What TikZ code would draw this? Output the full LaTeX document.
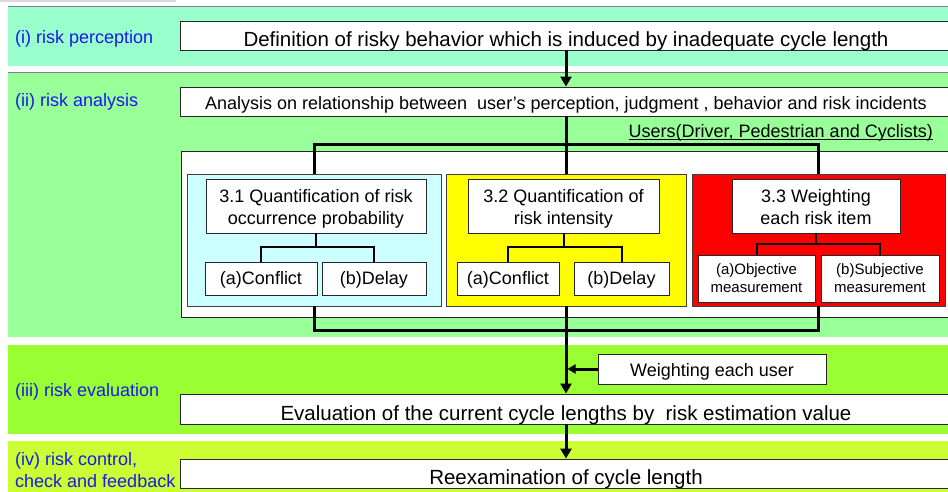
\documentclass[tikz,border=0pt]{standalone}
\usepackage{fontspec}
\setmainfont{Liberation Sans}
\usetikzlibrary{arrows.meta}
\definecolor{bandA}{HTML}{99FFCC}
\definecolor{bandB}{HTML}{99FF99}
\definecolor{bandC}{HTML}{99FF33}
\definecolor{bandD}{HTML}{CCFF33}
\definecolor{boxcyan}{HTML}{CCFFFF}
\definecolor{boxyellow}{HTML}{FFFF00}
\definecolor{boxred}{HTML}{FF0000}
\definecolor{lblblue}{RGB}{25,25,235}
\begin{document}
\begin{tikzpicture}[x=1pt,y=-1pt,
  wbox/.style={draw=black!85, line width=0.9pt, fill=white, inner sep=0pt},
  ml/.style={align=center},
  gbox/.style={draw=black!75, line width=0.9pt, inner sep=0pt, minimum height=132pt},
  bigtxt/.style={font=\fontsize{20.5}{24}\selectfont, text height=22.7pt, text depth=0pt},
  midtxt/.style={font=\fontsize{18}{22}\selectfont},
  smalltxt/.style={font=\fontsize{15}{18}\selectfont},
  lbl/.style={anchor=base west, text=lblblue, font=\fontsize{18}{21.5}\selectfont, inner sep=0pt, align=left},
  flow/.style={line width=3pt},
  flowarrow/.style={line width=3pt, -{Triangle[length=10pt,width=11pt]}},
  sidearrow/.style={line width=3pt, -{Triangle[length=8pt,width=9pt]}},
  subline/.style={line width=2pt},
]
\useasboundingbox (0,0) rectangle (948,492);
% bands
\fill[black!15] (0,0) rectangle (176,2);
\fill[bandA] (8,6) rectangle (948,66);
\fill[bandB] (8,72) rectangle (948,337);
\fill[bandC] (8,345) rectangle (948,434);
\fill[bandD] (8,441) rectangle (948,492);
\draw[gray, line width=1pt] (8,6.5) -- (948,6.5);
\draw[gray, line width=1pt] (8,72.5) -- (948,72.5);
% labels
\node[lbl] (l1) at (15,43.3) {(i) risk perception};
\node[lbl] (l2) at (15,107) {(ii) risk analysis};
\node[lbl] (l3) at (15,396) {(iii) risk evaluation};
\node[lbl, anchor=west] (l4) at (15,469.9) {(iv) risk control,\\check and feedback};
% main boxes
\node[wbox,bigtxt,minimum width=772pt,minimum height=29pt] (b1) at (566,35.5)
  {Definition of risky behavior which is induced by inadequate cycle length};
\node[wbox,midtxt,text height=16.9pt,text depth=0pt,minimum width=772pt,minimum height=29pt] (b2) at (566,101.5)
  {Analysis on relationship between \ user’s perception, judgment , behavior and risk incidents};
\node[anchor=base east, midtxt, inner sep=0pt] (users) at (933,137.3)
  {Users(Driver, Pedestrian and Cyclists)};
\draw[line width=0.9pt] ([yshift=-1.8pt]users.base west) -- ([yshift=-1.8pt]users.base east);
\node[wbox,minimum width=771pt,minimum height=166pt] (cont) at (566.5,234) {};
% coloured groups
\node[gbox, fill=boxcyan, minimum width=254pt] (g1) at (314,240) {};
\node[gbox, fill=boxyellow, minimum width=240pt] (g2) at (566,240) {};
\node[gbox, fill=boxred, minimum width=253pt] (g3) at (818.5,240) {};
% titles
\node[wbox,ml,midtxt,minimum width=220pt,minimum height=54pt] (t1) at (316,206)
  {\rule{0pt}{19.1pt}3.1 Quantification of risk\\occurrence probability};
\node[wbox,ml,midtxt,minimum width=191pt,minimum height=54pt] (t2) at (563.5,206)
  {\rule{0pt}{19.1pt}3.2 Quantification of\\risk intensity};
\node[wbox,ml,midtxt,minimum width=168pt,minimum height=54pt] (t3) at (816,206)
  {\rule{0pt}{15.1pt}3.3 Weighting\\each risk item};
% sub boxes
\tikzset{subtxt/.style={midtxt, text height=12.9pt, text depth=0pt, minimum height=33pt}}
\node[wbox,subtxt,minimum width=112pt] (s1a) at (261,278.5) {(a)Conflict};
\node[wbox,subtxt,minimum width=104pt] (s1b) at (374,278.5) {(b)Delay};
\node[wbox,subtxt,minimum width=102pt] (s2a) at (508,278.5) {(a)Conflict};
\node[wbox,subtxt,minimum width=95pt] (s2b) at (621.5,278.5) {(b)Delay};
\node[wbox,ml,smalltxt,minimum width=117pt,minimum height=47pt] (s3a) at (756.5,278.5) {(a)Objective\\measurement};
\node[wbox,ml,smalltxt,minimum width=118pt,minimum height=47pt] (s3b) at (880,278.5) {(b)Subjective\\measurement};
% sub connectors
\draw[subline] (t1.south) -- ++(0,14) coordinate (j1);
\draw[subline] (s1a.north) |- (j1) -| (s1b.north);
\draw[subline] (t2.south) -- ++(0,14) coordinate (j2);
\draw[subline] (s2a.north) |- (j2) -| (s2b.north);
\draw[subline] (t3.south) -- ++(0,11) coordinate (j3);
\draw[subline] (s3a.north) |- (j3) -| (s3b.north);
% other boxes
\node[wbox,midtxt,text height=14.9pt,text depth=0pt,minimum width=228pt,minimum height=30pt] (wu) at (712,369) {Weighting each user};
\node[wbox,bigtxt,minimum width=772pt,minimum height=30pt] (b3) at (566,409)
  {Evaluation of the current cycle lengths by \ risk estimation value};
\node[wbox,bigtxt,minimum width=772pt,minimum height=29pt] (b4) at (566,473.5)
  {Reexamination of cycle length};
% main flow
\draw[flowarrow] (b1.south) -- (b2.north);
\draw[flow] (b2.south) -- (g2.north);
\draw[flow] (g1.north) -- ++(0,-29) -| (g3.north);
\draw[flow] (g1.south) -- ++(0,24) -| (g3.south);
\draw[flowarrow] (g2.south) -- (b3.north);
\draw[sidearrow] (wu.west) -- ([xshift=1.5pt]wu.west -| g2.south);
\draw[flowarrow] (b3.south) -- (b4.north);
\end{tikzpicture}
\end{document}
